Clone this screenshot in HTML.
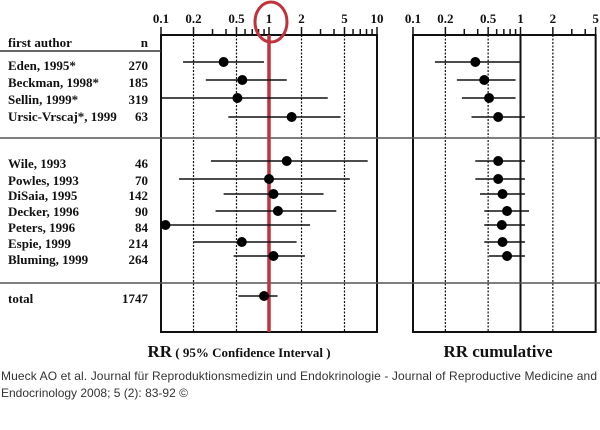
<!DOCTYPE html>
<html><head><meta charset="utf-8"><style>
body{margin:0;background:#fff;width:600px;height:425px;overflow:hidden}
svg text{font-family:"Liberation Serif",serif;font-weight:bold;fill:#111}
.cap{font-family:"Liberation Sans",sans-serif;font-weight:normal;font-size:12px;fill:#333}
</style></head><body>
<svg id="chart" width="600" height="425" viewBox="0 0 600 425" xmlns="http://www.w3.org/2000/svg">
<g id="g"></g>
<text x="8" y="47" font-size="13">first author</text>
<text x="148" y="47" font-size="13" text-anchor="end">n</text>
<text x="239" y="357" text-anchor="middle"><tspan font-size="17">RR</tspan><tspan font-size="13"> ( 95% Confidence Interval )</tspan></text>
<text x="498" y="357" text-anchor="middle" font-size="17">RR cumulative</text>
<text class="cap" x="1" y="380" textLength="596">Mueck AO et al. Journal für Reproduktionsmedizin und Endokrinologie - Journal of Reproductive Medicine and</text>
<text class="cap" x="1" y="397">Endocrinology 2008; 5 (2): 83-92 ©</text>
</svg>
<script>
const authors=["Eden, 1995*","Beckman, 1998*","Sellin, 1999*","Ursic-Vrscaj*, 1999","Wile, 1993","Powles, 1993","DiSaia, 1995","Decker, 1996","Peters, 1996","Espie, 1999","Bluming, 1999","total"];
const nValues=["270","185","319","63","46","70","142","90","84","214","264","1747"];
const rowY=[62,80,98,117,161,179,194,211,225,242,256,296];
const rrPoint=[0.38,0.566,0.51,1.62,1.46,1.0,1.1,1.21,0.11,0.56,1.1,0.9];
const rrLow=[0.16,0.26,0.1,0.42,0.29,0.147,0.38,0.32,0.11,0.2,0.47,0.52];
const rrHigh=[0.9,1.46,3.5,4.6,8.2,5.6,3.2,4.2,2.4,1.8,2.15,1.2];
const cumPoint=[0.38,0.46,0.51,0.62,0.62,0.62,0.68,0.75,0.67,0.68,0.75];
const cumLow=[0.16,0.256,0.285,0.35,0.38,0.38,0.42,0.46,0.46,0.46,0.51];
const cumHigh=[0.99,0.9,0.9,1.1,1.1,1.1,1.1,1.2,1.1,1.1,1.1];
const leftTicks=["0.1","0.2","0.5","1","2","5","10"];
const rightTicks=["0.1","0.2","0.5","1","2","5"];
const NS="http://www.w3.org/2000/svg",g=document.getElementById('g');
function xL(v){return 161+Math.log10(v/0.1)*108;}
function xR(v){return 413+Math.log10(v/0.1)*107.5;}
function mk(t,a,name){const e=document.createElementNS(NS,t);for(const k in a)e.setAttribute(k,a[k]);


g.appendChild(e);return e;}
function line(x1,y1,x2,y2,w,c,name,dash){const a={x1,y1,x2,y2,stroke:c||'#111','stroke-width':w};if(dash)a['stroke-dasharray']=dash;return mk('line',a,name);}
[[xL,10,leftTicks,'left'],[xR,5,rightTicks,'right']].forEach(([f,max,ticks,side])=>{
  const x0=f(0.1),x1=f(max);
  mk('rect',{x:x0,y:35,width:x1-x0,height:297,fill:'none',stroke:'#111','stroke-width':2},side+'-panel-frame');
  ticks.forEach(t=>{const v=parseFloat(t),x=f(v);
    const tx=mk('text',{x:x,y:23,'font-size':13,'text-anchor':'middle'},side+'-tick-label');tx.textContent=t;
    line(x,27,x,35,1.5,'#111',side+'-major-tick');
    if(v>0.1&&v<max&&!(side==='right'&&v===1))line(x,35,x,332,1.2,'#111',side+'-gridline','2,1.5');
  });
  for(let d=0.1;d<max;d*=10)for(let m=2;m<10;m++){const v=d*m;if(v<max&&m!==2&&m!==5)line(f(v),29,f(v),35,1.5,'#111',side+'-minor-tick');}
});
line(xR(1),35,xR(1),332,2,'#111','right-reference-line');
line(0,51,161,51,1.5,'#333','header-separator');
line(0,138,600,138,1.5,'#555','group-separator');
line(0,283,600,283,1.5,'#555','total-separator');
line(xL(1),35,xL(1),332,3.5,'#c0333c','null-effect-line');
mk('ellipse',{cx:271,cy:22,rx:16,ry:20,fill:'none',stroke:'#c0333c','stroke-width':3},'highlight-circle');
const labY=[70,87,104,121,168,185,200,216,232,248,264,303];
authors.forEach((a,i)=>{
  const t=mk('text',{x:8,y:labY[i],'font-size':13},'author-label');t.textContent=a;
  const n=mk('text',{x:148,y:labY[i],'font-size':13,'text-anchor':'end'},'n-value');n.textContent=nValues[i];
  line(xL(rrLow[i]),rowY[i],xL(rrHigh[i]),rowY[i],1.5,'#111','ci-line');
  mk('circle',{cx:xL(rrPoint[i]),cy:rowY[i],r:5,fill:'#000'},'rr-point');
});
cumPoint.forEach((p,i)=>{
  line(xR(cumLow[i]),rowY[i],xR(cumHigh[i]),rowY[i],1.5,'#111','cum-ci-line');
  mk('circle',{cx:xR(p),cy:rowY[i],r:5,fill:'#000'},'cum-point');
});
</script>
</body></html>
